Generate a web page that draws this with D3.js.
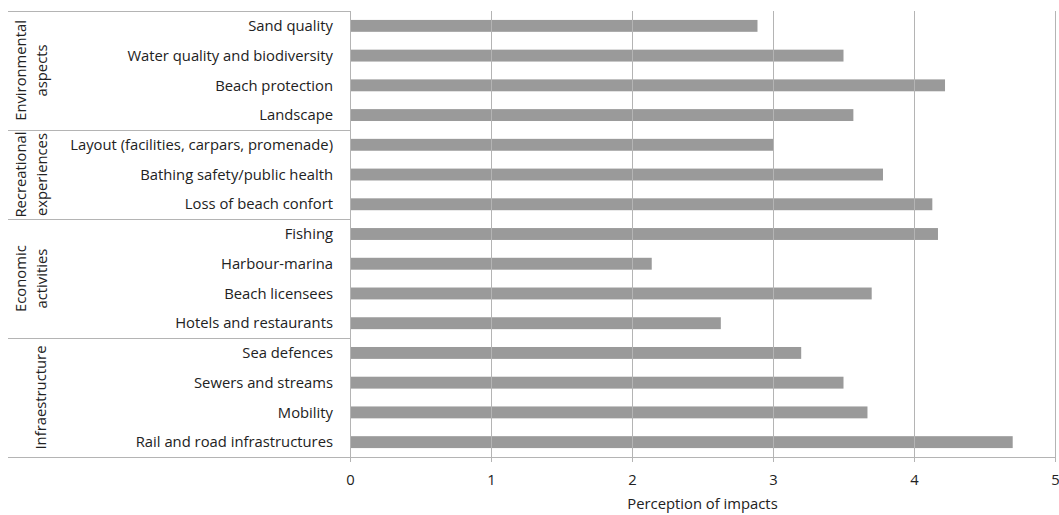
<!DOCTYPE html>
<html>
<head>
<meta charset="utf-8">
<script src="https://cdn.jsdelivr.net/npm/d3@7"></script>
<style>
  html, body { margin: 0; padding: 0; background: #fff; }
  svg { display: block; }
  text { font-family: "Open Sans", Lato, sans-serif; fill: #222; }
</style>
</head>
<body>
<svg id="chart" width="1059" height="515"></svg>
<script>
// Impact categories, top to bottom
const categories = [
  "Sand quality",
  "Water quality and biodiversity",
  "Beach protection",
  "Landscape",
  "Layout (facilities, carpars, promenade)",
  "Bathing safety/public health",
  "Loss of beach confort",
  "Fishing",
  "Harbour-marina",
  "Beach licensees",
  "Hotels and restaurants",
  "Sea defences",
  "Sewers and streams",
  "Mobility",
  "Rail and road infrastructures"
];

// Mean perception score for each category
const values = [2.89, 3.50, 4.22, 3.57, 3.00, 3.78, 4.13, 4.17, 2.14, 3.70, 2.63, 3.20, 3.50, 3.67, 4.70];

// Category groups (label lines) and how many categories each one spans
const groupLabels = [
  ["Environmental", "aspects"],
  ["Recreational", "experiences"],
  ["Economic", "activities"],
  ["Infraestructure"]
];
const groupSizes = [4, 3, 4, 4];

const xTicks = [0, 1, 2, 3, 4, 5];
const xTitle = "Perception of impacts";

const svg = d3.select("#chart");

const plotLeft = 350, plotRight = 1055, plotTop = 11, plotBottom = 457;
const labelRight = 333, groupLeft = 8;
const fontSize = 14.8;

const x = d3.scaleLinear().domain([0, 5]).range([plotLeft, plotRight]);
const y = d3.scaleBand().domain(categories).range([plotTop, plotBottom])
  .paddingInner(0.6).paddingOuter(0.3);

const lineColor = "#b4b4b4";
const barColor = "#9a9a9a";

// Bars
svg.append("g")
  .selectAll("rect")
  .data(categories)
  .join("rect")
  .attr("x", x(0))
  .attr("y", d => y(d))
  .attr("width", (d, i) => x(values[i]) - x(0))
  .attr("height", y.bandwidth())
  .attr("fill", barColor);

// Vertical gridlines, drawn over the bars
svg.append("g")
  .selectAll("line")
  .data(xTicks.slice(1))
  .join("line")
  .attr("x1", d => Math.round(x(d)) + 0.5)
  .attr("x2", d => Math.round(x(d)) + 0.5)
  .attr("y1", plotTop)
  .attr("y2", plotBottom)
  .attr("stroke", lineColor)
  .attr("stroke-width", 1);

// Bottom axis
const xAxis = d3.axisBottom(x).tickValues(xTicks).tickSize(5).tickPadding(12).tickFormat(d3.format("d"));
const ax = svg.append("g").attr("transform", `translate(0,${plotBottom})`).call(xAxis);
ax.select(".domain").attr("stroke", lineColor).attr("d", `M${plotLeft},0.5H${plotRight}`);
ax.selectAll(".tick line").attr("stroke", lineColor);
ax.selectAll(".tick text").attr("font-size", fontSize).attr("fill", "#222")
  .attr("font-family", '"Open Sans", Lato, sans-serif');

// Left axis line at zero
svg.append("line")
  .attr("x1", plotLeft + 0.5).attr("x2", plotLeft + 0.5)
  .attr("y1", plotTop).attr("y2", plotBottom)
  .attr("stroke", lineColor);

// Category labels
svg.append("g")
  .selectAll("text")
  .data(categories)
  .join("text")
  .attr("x", labelRight)
  .attr("y", d => y(d) + y.bandwidth() / 2)
  .attr("dy", "0.35em")
  .attr("text-anchor", "end")
  .attr("font-size", fontSize)
  .text(d => d);

// Group separators and rotated group labels
const half = (y.step() - y.bandwidth()) / 2;
let start = 0;
const bounds = [];
groupSizes.forEach(n => {
  const top = y(categories[start]) - half;
  const bottom = y(categories[start + n - 1]) + y.bandwidth() + half;
  bounds.push([top, bottom]);
  start += n;
});

const sepYs = [bounds[0][0]].concat(bounds.map(b => b[1]));
svg.append("g")
  .selectAll("line")
  .data(sepYs)
  .join("line")
  .attr("x1", groupLeft)
  .attr("x2", plotLeft)
  .attr("y1", d => Math.round(d) + 0.5)
  .attr("y2", d => Math.round(d) + 0.5)
  .attr("stroke", lineColor);

const lineX = [21, 42];
const gLabels = svg.append("g");
groupLabels.forEach((lines, gi) => {
  const cy = (bounds[gi][0] + bounds[gi][1]) / 2;
  const xs = lines.length === 1 ? [41] : lineX;
  lines.forEach((txt, li) => {
    gLabels.append("text")
      .attr("transform", `translate(${xs[li]},${cy}) rotate(-90)`)
      .attr("text-anchor", "middle")
      .attr("dy", "0.35em")
      .attr("font-size", fontSize)
      .text(txt);
  });
});

// Axis title
svg.append("text")
  .attr("x", (plotLeft + plotRight) / 2)
  .attr("y", 509)
  .attr("text-anchor", "middle")
  .attr("font-size", fontSize)
  .text(xTitle);
</script>
</body>
</html>
